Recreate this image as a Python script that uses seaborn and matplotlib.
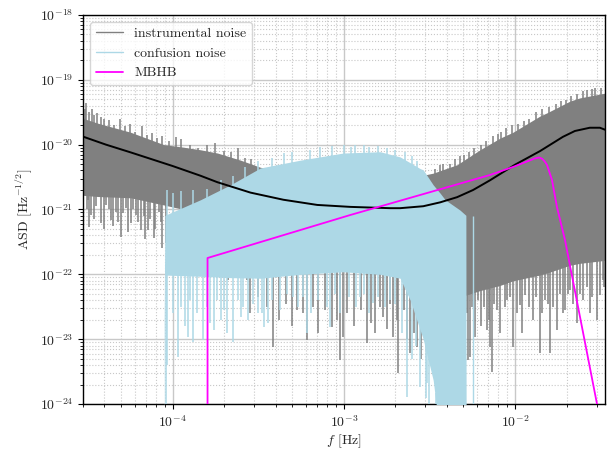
import numpy as np
import matplotlib
matplotlib.use("Agg")
import matplotlib.pyplot as plt
from matplotlib.lines import Line2D
from matplotlib.ticker import FixedLocator, NullFormatter
import seaborn as sns

# Values, stored as log10(f [Hz]) and log10(ASD)

# smooth noise model (black)
model_logf = [-4.52, -4.39, -4.245, -4.0, -3.837, -3.738, -3.545, -3.353, -3.155, -2.962,
              -2.729, -2.671, -2.536, -2.437, -2.338, -2.245, -2.146, -2.0, -1.854, -1.72,
              -1.65, -1.563, -1.504, -1.475]
model_logasd = [-19.88, -20.0, -20.12, -20.33, -20.48, -20.58, -20.74, -20.85, -20.93, -20.96,
                -20.98, -20.98, -20.95, -20.89, -20.81, -20.70, -20.55, -20.31, -20.10, -19.88,
                -19.79, -19.74, -19.74, -19.77]

# MBHB signal (magenta)
mbhb_logf = [-3.796, -3.796, -2.962, -2.146, -2.012, -1.886, -1.86, -1.843, -1.828, -1.813,
             -1.784, -1.755, -1.708, -1.522, -1.446]
mbhb_logasd = [-24.6, -21.748, -21.085, -20.468, -20.345, -20.215, -20.20, -20.215, -20.255, -20.314,
               -20.545, -20.962, -21.471, -23.985, -25.0]

# instrumental noise realisation (gray): solid band + dips + peaks
inst_logf = [-4.53, -4.437, -4.245, -4.052, -3.936, -3.837, -3.738, -3.603, -3.487, -3.254,
             -3.02, -2.962, -2.671, -2.496, -2.478, -2.338, -2.286, -2.204, -2.087, -2.012,
             -1.854, -1.813, -1.679, -1.621, -1.46]
inst_hi = [-19.59, -19.67, -19.81, -20.0, -20.04, -20.08, -20.13, -20.24, -20.35, -20.47,
           -20.53, -20.55, -20.55, -20.45, -20.44, -20.31, -20.22, -20.08, -19.90, -19.81,
           -19.56, -19.51, -19.33, -19.28, -19.20]
inst_lo = [-20.78, -20.80, -20.82, -20.93, -21.0, -21.09, -21.15, -21.25, -21.32, -21.8,
           -21.95, -21.95, -21.95, -22.2, -22.2, -22.3, -22.32, -22.25, -22.17, -22.1,
           -22.01, -21.98, -21.86, -21.83, -21.78]
inst_dip_f = [-4.50, -4.496, -4.49, -4.478, -4.46, -4.45, -4.42, -4.40, -4.391, -4.37,
              -4.362, -4.35, -4.332, -4.32, -4.303, -4.29, -4.274, -4.26, -4.245, -4.23,
              -4.216, -4.20, -4.187, -4.17, -4.16, -4.146, -4.13, -4.111, -4.10, -4.082,
              -4.07, -4.06, -4.041,
              -3.679, -3.563, -3.55, -3.50, -3.45, -3.411, -3.38, -3.34, -3.30, -3.271,
              -3.24, -3.213, -3.18, -3.15, -3.11, -3.067, -3.04, -3.02, -3.003, -2.98,
              -2.94, -2.90, -2.863, -2.84, -2.816, -2.79, -2.77, -2.75, -2.73, -2.711,
              -2.69, -2.682, -2.65, -2.63, -2.612, -2.59, -2.571, -2.55,
              -2.28, -2.274, -2.262, -2.25, -2.233, -2.216, -2.20, -2.187, -2.18, -2.163,
              -2.15, -2.146, -2.134, -2.12, -2.105, -2.09, -2.076, -2.06, -2.047, -2.03,
              -2.012, -1.99, -1.971, -1.96, -1.942, -1.92, -1.895, -1.88, -1.854, -1.84,
              -1.825, -1.81, -1.796, -1.78, -1.755, -1.74, -1.72, -1.708, -1.69, -1.679,
              -1.66, -1.638, -1.62, -1.603, -1.58, -1.563, -1.55, -1.522, -1.504, -1.487,
              -1.48]
inst_dip_v = [-21.0, -20.85, -21.27, -21.09, -21.15, -20.95, -21.21, -21.3, -20.93, -21.0,
              -21.16, -21.25, -21.04, -21.2, -21.42, -21.05, -20.98, -21.35, -21.21, -21.0,
              -21.09, -21.2, -21.32, -21.1, -21.45, -21.32, -21.15, -21.44, -21.3, -21.04,
              -21.2, -21.6, -21.52,
              -22.09, -22.09, -22.6, -22.35, -22.5, -23.12, -22.7, -22.45, -22.8, -22.55,
              -22.6, -23.01, -22.5, -22.9, -22.55, -22.81, -22.7, -23.32, -22.97, -22.6,
              -22.8, -22.55, -23.06, -22.75, -22.91, -22.5, -22.66, -22.85, -22.45, -22.97,
              -22.7, -23.52, -22.55, -23.0, -23.21, -22.9, -23.12, -23.3,
              -22.6, -23.32, -23.28, -22.5, -22.97, -22.40, -22.8, -22.24, -22.5, -22.86,
              -22.7, -23.12, -23.51, -22.45, -22.55, -22.9, -22.09, -22.5, -22.40, -22.35,
              -23.12, -22.6, -22.47, -22.9, -22.32, -22.5, -22.71, -22.35, -23.21, -22.6,
              -22.40, -22.45, -23.21, -22.5, -22.86, -22.3, -22.6, -22.55, -22.3, -22.24,
              -22.45, -22.75, -22.3, -22.40, -22.2, -22.60, -22.35, -22.71, -22.32, -22.09,
              -22.2]
inst_peak_f = [-4.51, -4.507, -4.49, -4.47, -4.46, -4.44, -4.42, -4.40, -4.37, -4.34,
               -4.31, -4.28, -4.25, -4.22, -4.18, -4.15, -4.12, -4.09, -4.06, -4.02,
               -3.98, -3.95, -3.90, -3.85, -3.80, -3.75, -3.70, -3.66, -3.62, -3.58,
               -3.54,
               -2.47, -2.44, -2.42, -2.38, -2.35, -2.32, -2.30, -2.27, -2.24, -2.20,
               -2.17, -2.13, -2.10, -2.08, -2.05, -2.02, -1.98, -1.95, -1.92, -1.88,
               -1.84, -1.80, -1.76, -1.73, -1.70, -1.67, -1.64, -1.60, -1.58, -1.55,
               -1.53, -1.50]
inst_peak_v = [-19.45, -19.36, -19.5, -19.45, -19.55, -19.52, -19.58, -19.6, -19.62, -19.7,
               -19.6, -19.72, -19.68, -19.8, -19.72, -19.85, -19.82, -19.9, -19.86, -19.95,
               -19.88, -19.92, -20.0, -20.05, -20.0, -19.98, -20.1, -20.12, -20.06, -20.2,
               -20.22,
               -20.38, -20.32, -20.3, -20.3, -20.22, -20.18, -20.16, -20.12, -20.06, -20.0,
               -19.95, -19.86, -19.84, -19.8, -19.74, -19.7, -19.68, -19.63, -19.6, -19.5,
               -19.45, -19.42, -19.37, -19.33, -19.32, -19.25, -19.22, -19.18, -19.16, -19.15,
               -19.12, -19.13]

# confusion noise realisation (light blue)
conf_logf = [-4.055, -4.045, -3.837, -3.662, -3.487, -3.254, -3.003, -2.787, -2.671, -2.612,
             -2.554, -2.536, -2.478, -2.437, -2.408, -2.321, -2.287, -2.285]
conf_hi = [-25.0, -21.09, -20.85, -20.62, -20.36, -20.24, -20.13, -20.11, -20.19, -20.28,
           -20.37, -20.39, -20.62, -20.75, -20.85, -21.01, -21.09, -25.0]
conf_lo = [-25.0, -22.01, -22.03, -22.05, -22.06, -22.0, -21.96, -22.0, -22.06, -22.40,
           -22.86, -23.0, -23.63, -24.5, -24.6, -24.6, -24.6, -25.0]
conf_dip_f = [-4.041, -4.03, -4.00, -3.971, -3.95, -3.93, -3.913, -3.90, -3.883, -3.86,
              -3.825, -3.80, -3.78, -3.761, -3.74, -3.72, -3.70, -3.68, -3.65, -3.62,
              -3.603, -3.586, -3.56, -3.53, -3.504, -3.48, -3.469, -3.44, -3.42, -3.37,
              -3.33, -3.294, -3.27, -3.24, -3.213, -3.19, -3.15, -3.10, -3.079, -3.05,
              -3.02, -2.97, -2.93, -2.904, -2.88, -2.85, -2.828, -2.80, -2.76, -2.729,
              -2.70, -2.66, -2.63, -2.60, -2.58, -2.554, -2.52, -2.513, -2.50, -2.46]
conf_dip_v = [-24.6, -23.4, -22.6, -23.28, -22.5, -22.8, -22.97, -22.4, -23.04, -22.6,
              -23.01, -22.5, -22.75, -22.86, -22.4, -22.71, -22.55, -22.9, -23.04, -22.4,
              -22.66, -22.50, -22.7, -22.45, -22.60, -22.6, -22.81, -22.75, -22.4, -22.55,
              -22.3, -22.35, -22.5, -22.35, -22.91, -22.6, -22.4, -22.5, -22.81, -22.3,
              -22.6, -22.35, -22.5, -22.35, -22.3, -22.6, -22.44, -22.35, -22.5, -22.40,
              -22.45, -22.9, -23.89, -23.3, -23.1, -23.74, -23.9, -23.68, -24.1, -24.3]
conf_peak_f = [-4.035, -4.00, -3.95, -3.88, -3.80, -3.72, -3.65, -3.58, -3.50, -3.42,
               -3.35, -3.30, -3.20, -3.137, -3.07, -3.0, -2.96, -2.933, -2.88, -2.85,
               -2.80, -2.75, -2.70, -2.64, -2.60, -2.57]
conf_peak_v = [-20.70, -20.75, -20.72, -20.7, -20.68, -20.55, -20.48, -20.35, -20.25, -20.2,
               -20.13, -20.12, -20.08, -20.04, -20.02, -20.0, -20.03, -20.0, -20.0, -20.04,
               -20.02, -20.05, -20.08, -20.12, -20.18, -20.25]
conf_stripe_f = [-2.245]
conf_stripe_v = [(-24.0, -21.1)]

# axis ticks (decades)
xtick_exp = [-4, -3, -2]
ytick_exp = [-24, -23, -22, -21, -20, -19, -18]


sns.set_style("ticks")
plt.rcParams["font.family"] = "serif"
plt.rcParams["font.serif"] = ["cmr10", "DejaVu Serif"]
plt.rcParams["mathtext.fontset"] = "cm"
plt.rcParams["axes.formatter.use_mathtext"] = True
plt.rcParams["font.size"] = 10


def p10(a):
    return 10.0 ** np.asarray(a, dtype=float)


fig = plt.figure(figsize=(6.11, 4.5), dpi=100)
ax = fig.add_axes([0.136, 0.102, 0.854, 0.865])
ax.set_xscale("log")
ax.set_yscale("log")

gray = "#808080"
blue = "#add8e6"

# instrumental noise
ax.fill_between(p10(inst_logf), p10(inst_lo), p10(inst_hi), color=gray, lw=0, zorder=2)
ax.vlines(p10(inst_dip_f), p10(inst_dip_v), p10(np.interp(inst_dip_f, inst_logf, inst_lo)) * 1.5,
          color=gray, lw=1.1, zorder=2)
ax.vlines(p10(inst_peak_f), p10(np.interp(inst_peak_f, inst_logf, inst_hi)) / 1.5, p10(inst_peak_v),
          color=gray, lw=1.1, zorder=2)

# confusion noise
ax.fill_between(p10(conf_logf), p10(conf_lo), p10(conf_hi), color=blue, lw=0, zorder=3)
ax.vlines(p10(conf_dip_f), p10(conf_dip_v), p10(np.interp(conf_dip_f, conf_logf, conf_lo)) * 1.5,
          color=blue, lw=1.1, zorder=3)
ax.vlines(p10(conf_peak_f), p10(np.interp(conf_peak_f, conf_logf, conf_hi)) / 1.5, p10(conf_peak_v),
          color=blue, lw=1.1, zorder=3)
for f, (lo, hi) in zip(conf_stripe_f, conf_stripe_v):
    ax.vlines(10.0 ** f, 10.0 ** lo, 10.0 ** hi, color=blue, lw=1.0, zorder=3)

# model and signal
sns.lineplot(x=p10(model_logf), y=p10(model_logasd), ax=ax, color="black", lw=1.4,
             sort=False, estimator=None, zorder=4)
sns.lineplot(x=p10(mbhb_logf), y=p10(mbhb_logasd), ax=ax, color="magenta", lw=1.3,
             sort=False, estimator=None, zorder=5)

ax.set_xlim(3.0e-5, 3.35e-2)
ax.set_ylim(1e-24, 1e-18)

subs = np.arange(2, 10)
ax.set_xticks(p10(xtick_exp))
ax.set_yticks(p10(ytick_exp))
ax.xaxis.set_minor_locator(FixedLocator([s * 10.0 ** e for e in range(-5, -1) for s in subs
                                         if 3.0e-5 <= s * 10.0 ** e <= 3.35e-2]))
ax.yaxis.set_minor_locator(FixedLocator([s * 10.0 ** e for e in range(-24, -18) for s in subs]))
ax.xaxis.set_minor_formatter(NullFormatter())
ax.yaxis.set_minor_formatter(NullFormatter())

ax.grid(which="major", color="#c8c8c8", lw=1.0, ls="-", zorder=0)
ax.grid(which="minor", color="#c8c8c8", lw=0.8, ls=":", zorder=0)
ax.set_axisbelow(True)
ax.tick_params(which="both", direction="out", color="black")
for s in ax.spines.values():
    s.set_color("black")
    s.set_linewidth(1.0)

ax.set_xlabel(r"$f$ [Hz]", labelpad=2)
ax.set_ylabel(r"ASD [Hz$^{-1/2}$]", labelpad=4)

handles = [Line2D([], [], color=gray, lw=1.0),
           Line2D([], [], color=blue, lw=1.0),
           Line2D([], [], color="magenta", lw=1.3)]
ax.legend(handles, ["instrumental noise", "confusion noise", "MBHB"], loc="upper left",
          fontsize=10)

fig.savefig("out.png", dpi=100)
